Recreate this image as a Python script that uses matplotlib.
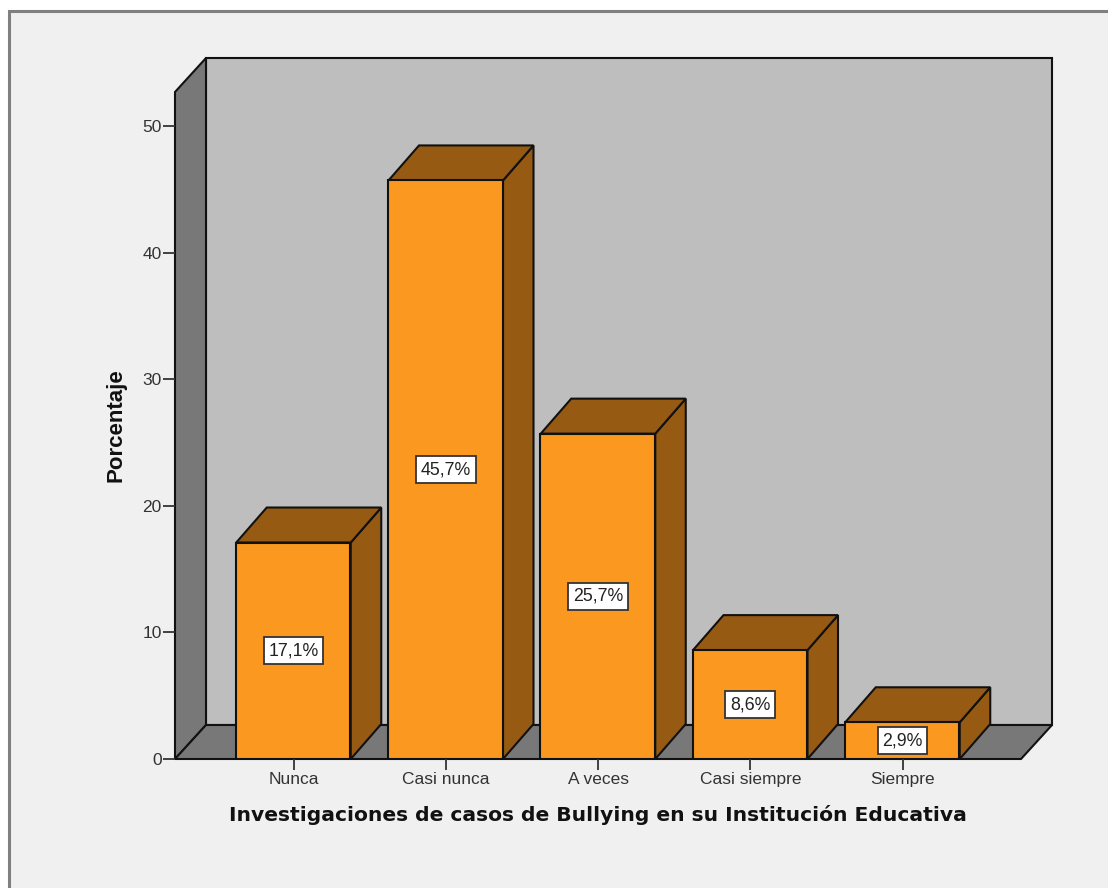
import matplotlib
matplotlib.use("Agg")
import matplotlib.pyplot as plt
from matplotlib.patches import Rectangle, Polygon

categories = ["Nunca", "Casi nunca", "A veces", "Casi siempre", "Siempre"]
values = [17.1, 45.7, 25.7, 8.6, 2.9]
labels = ["17,1%", "45,7%", "25,7%", "8,6%", "2,9%"]
y_ticks = [0, 10, 20, 30, 40, 50]
x_title = "Investigaciones de casos de Bullying en su Institución Educativa"
y_title = "Porcentaje"

W, H = 1108, 888
BG = "#F0F0F0"
WALL = "#BEBEBE"
FLOOR = "#787878"
FRONT = "#FB981F"
SIDE = "#965A13"
INK = "#111111"

plt.rcParams["font.family"] = ["Liberation Sans", "DejaVu Sans"]
fig = plt.figure(figsize=(W / 100, H / 100), dpi=100, facecolor="white")

# panel frame, running off the right and bottom edges
fig.add_artist(Rectangle((9 / W, -0.02), 1.1, 1.02 - 11 / H, transform=fig.transFigure,
                         facecolor=BG, edgecolor="#808080", linewidth=2.2, zorder=-5))

# axes box = front plane of the 3D chart
left, right, bottom, top = 175, 1021, 759, 92
ax = fig.add_axes([left / W, 1 - bottom / H, (right - left) / W, (bottom - top) / H])
ax.patch.set_alpha(0)
px_x = 152.25
px_y = 12.66
ax.set_xlim((left - 293.5) / px_x, (right - 293.5) / px_x)
ax.set_ylim(0, (bottom - top) / px_y)
for s in ax.spines.values():
    s.set_visible(False)

x0, x1 = ax.get_xlim()
y0, y1 = ax.get_ylim()
dx = 31 / px_x
dy = 34 / px_y
bar_dx = 30.5 / px_x
bar_dy = 35 / px_y
lw = 1.5

def face(pts, color, z):
    ax.add_patch(Polygon(pts, closed=True, facecolor=color, edgecolor=INK, linewidth=lw,
                         joinstyle="miter", clip_on=False, zorder=z))

face([(x0 + dx, y0 + dy), (x1 + dx, y0 + dy), (x1 + dx, y1 + dy), (x0 + dx, y1 + dy)], WALL, 1)
face([(x0, y0), (x0 + dx, y0 + dy), (x0 + dx, y1 + dy), (x0, y1)], FLOOR, 1.1)
face([(x0, y0), (x1, y0), (x1 + dx, y0 + dy), (x0 + dx, y0 + dy)], FLOOR, 1.2)

bar_w = 114.5 / px_x
xs = list(range(len(categories)))
for i, (x, v, t) in enumerate(zip(xs, values, labels)):
    z = 2 + i * 0.1
    l, r = x - bar_w / 2, x + bar_w / 2
    ax.bar(x - 0.002, v, width=bar_w, color=FRONT, edgecolor=INK, linewidth=lw, zorder=z + 0.02)
    face([(r, 0), (r + bar_dx, bar_dy), (r + bar_dx, v + bar_dy), (r, v)], SIDE, z)
    face([(l, v), (r, v), (r + bar_dx, v + bar_dy), (l + bar_dx, v + bar_dy)], SIDE, z + 0.01)
    ax.text(x, v / 2, t, ha="center", va="center", fontsize=12.8, color="#222222", zorder=6,
            bbox=dict(boxstyle="square,pad=0.27", facecolor="white", edgecolor="#333333", linewidth=1.3))

ax.set_xticks(xs, categories)
ax.set_yticks(y_ticks)
ax.tick_params(axis="x", length=8, width=1.3, color="#333333", labelsize=12.5,
               labelcolor="#333333", pad=1.5)
ax.tick_params(axis="y", length=8.5, width=1.3, color="#333333", labelsize=12.5,
               labelcolor="#333333", pad=1)

fig.text(598 / W, 1 - 815 / H, x_title, ha="center", va="center",
         fontsize=14.6, fontweight="bold", color="#111111", family="DejaVu Sans")
fig.text(116 / W, 1 - 425 / H, y_title, ha="center", va="center", rotation=90,
         fontsize=16, fontweight="bold", color="#111111")

fig.savefig("out.png", dpi=100, facecolor="white")
